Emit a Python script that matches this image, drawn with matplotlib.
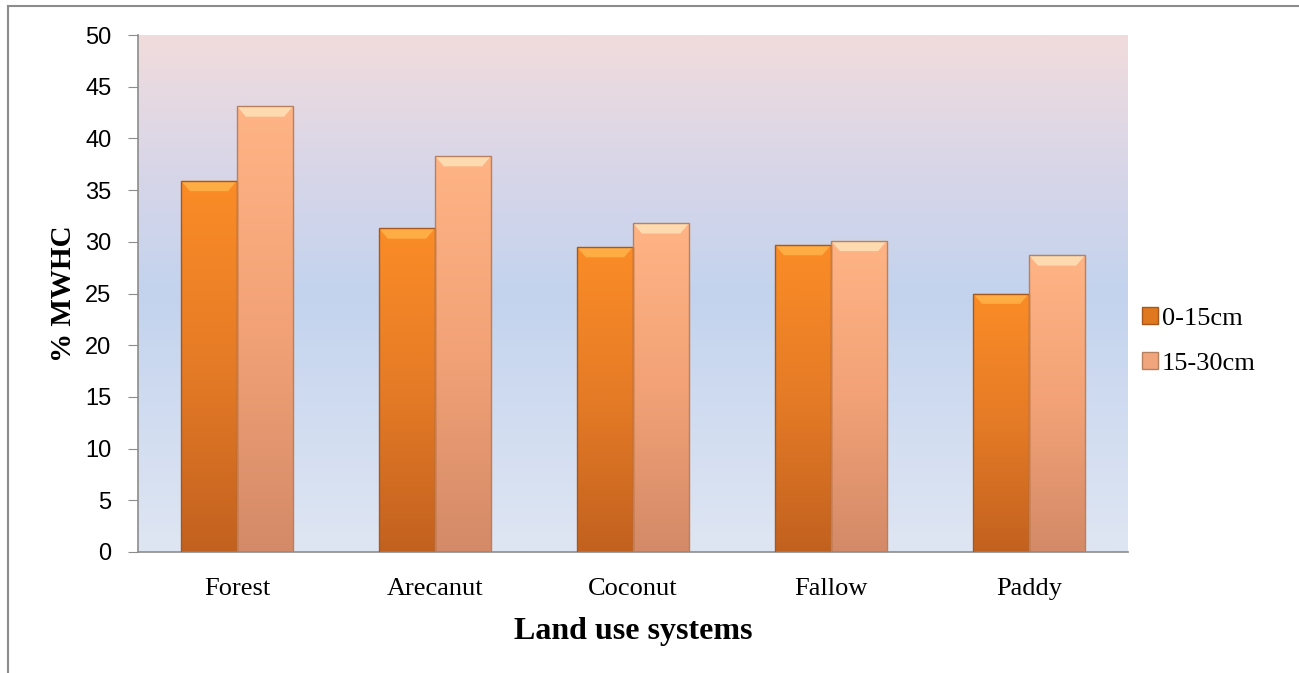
import matplotlib
matplotlib.use("Agg")
import matplotlib.pyplot as plt
import numpy as np
from matplotlib.colors import LinearSegmentedColormap
from matplotlib.patches import Polygon, Patch
from matplotlib.lines import Line2D

# dane
kategorie = ["Forest", "Arecanut", "Coconut", "Fallow", "Paddy"]
seria_0_15 = [35.9, 31.3, 29.5, 29.7, 25.0]
seria_15_30 = [43.1, 38.3, 31.8, 30.1, 28.7]
etykiety_serii = ["0-15cm", "15-30cm"]
y_ticks = list(range(0, 51, 5))

fig = plt.figure(figsize=(12.99, 6.73), dpi=100)
ax = fig.add_axes([138 / 1299, 1 - 552 / 673, 990 / 1299, 517 / 673])

ax.set_xlim(-0.5, 4.5)
ax.set_ylim(0, 50)

# tło z gradientem (różowe u góry, niebieskie w środku, jasne na dole)
tlo = LinearSegmentedColormap.from_list(
    "tlo", [(0.0, "#dfe6f3"), (0.5, "#c3d3ee"), (0.75, "#d9d6e8"), (1.0, "#f1dcdc")])
grad = np.linspace(0, 1, 256).reshape(-1, 1)
ax.imshow(grad, cmap=tlo, aspect="auto", origin="lower",
          extent=[-0.5, 4.5, 0, 50], zorder=0)

kol_a = LinearSegmentedColormap.from_list("a", ["#c2611f", "#e57b26", "#fb8c26"])
kol_b = LinearSegmentedColormap.from_list("b", ["#d48a68", "#f2a276", "#ffb486"])

szer = 0.283
x = np.arange(len(kategorie))


def rysuj(pozycje, wartosci, cmap, krawedz, bevel):
    for xc, v in zip(pozycje, wartosci):
        bars = ax.bar(xc, v, width=szer, color="none", edgecolor=krawedz,
                      linewidth=1.0, zorder=3)
        r = bars[0]
        im = ax.imshow(grad, cmap=cmap, aspect="auto", origin="lower",
                       extent=[xc - szer / 2, xc + szer / 2, 0, v], zorder=2)
        im.set_clip_path(r)
        # jasny skos na górze słupka
        dx = 0.045
        dy = 1.0
        trap = Polygon([[xc - szer / 2, v], [xc + szer / 2, v],
                        [xc + szer / 2 - dx, v - dy], [xc - szer / 2 + dx, v - dy]],
                       closed=True, facecolor=bevel, edgecolor="none", alpha=0.85, zorder=2.5)
        ax.add_patch(trap)


rysuj(x - szer / 2, seria_0_15, kol_a, "#a8581c", "#ffb24a")
rysuj(x + szer / 2, seria_15_30, kol_b, "#b7805e", "#ffe2b8")

ax.set_yticks(y_ticks)
ax.set_yticklabels([str(t) for t in y_ticks], fontsize=17, family="Liberation Sans")
ax.set_xticks(x)
ax.set_xticklabels(kategorie, fontsize=19, family="Liberation Serif")
ax.tick_params(axis="y", direction="out", length=7, color="#8c8c8c", pad=12)
ax.tick_params(axis="x", length=0, pad=19)

for s in ["top", "right"]:
    ax.spines[s].set_visible(False)
ax.spines["left"].set_color("#8c8c8c")
ax.spines["bottom"].set_color("#8c8c8c")
ax.spines["left"].set_linewidth(1.2)
ax.spines["bottom"].set_linewidth(1.2)

ax.set_ylabel("% MWHC", fontsize=21, fontweight="bold", family="Liberation Serif", labelpad=6)
ax.set_xlabel("Land use systems", fontsize=23, fontweight="bold", family="Liberation Serif", labelpad=12)

# legenda
uchwyty = [Patch(facecolor="#e0781f", edgecolor="#a8581c", label=etykiety_serii[0]),
           Patch(facecolor="#f0a57c", edgecolor="#b7805e", label=etykiety_serii[1])]
fig.legend(handles=uchwyty, loc="center left", bbox_to_anchor=(1118 / 1299, 1 - 341 / 673),
           frameon=False, prop={"family": "Liberation Serif", "size": 19},
           handlelength=0.6, handleheight=0.6, handletextpad=0.15, labelspacing=0.85)

# ramka wokół wykresu (widoczna tylko lewa i górna krawędź)
fig.add_artist(Line2D([7.5 / 1299, 1.0], [1 - 5.5 / 673, 1 - 5.5 / 673],
                      transform=fig.transFigure, color="#8c8c8c", linewidth=1.5))
fig.add_artist(Line2D([7.5 / 1299, 7.5 / 1299], [0, 1 - 5.5 / 673],
                      transform=fig.transFigure, color="#8c8c8c", linewidth=1.5))

fig.savefig("out.png", dpi=100)
